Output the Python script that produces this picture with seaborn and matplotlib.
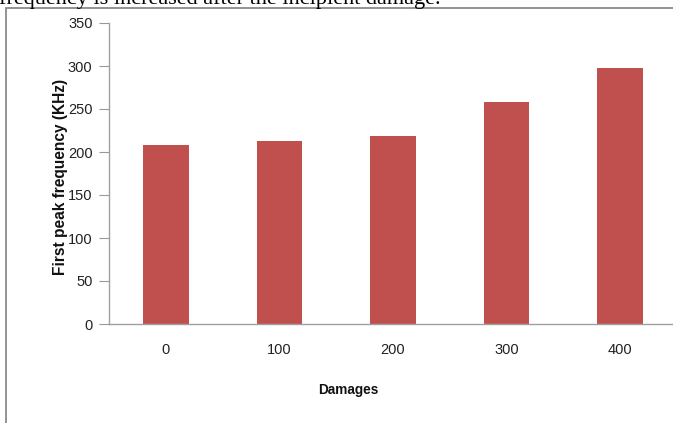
import matplotlib
matplotlib.use("Agg")
import matplotlib.pyplot as plt
from matplotlib.patches import Rectangle
import seaborn as sns
import pandas as pd

# Damage levels and first peak frequency (kHz)
damages = ["0", "100", "200", "300", "400"]
peak_freq = [208, 213, 219, 258, 298]
y_ticks = [0, 50, 100, 150, 200, 250, 300, 350]

df = pd.DataFrame({"Damages": damages, "Frequency": peak_freq})

sns.set_style("white")
plt.rcParams["font.family"] = ["Liberation Sans", "DejaVu Sans"]

W, H = 673, 423
fig = plt.figure(figsize=(W / 100, H / 100), dpi=100)

# plot area in pixel coordinates
x0, x1 = 109.25, 676.75
y_top, y_zero = 23, 324
ax = fig.add_axes([x0 / W, 1 - y_zero / H, (x1 - x0) / W, (y_zero - y_top) / H])

sns.barplot(data=df, x="Damages", y="Frequency", color="#C0504D",
            saturation=1, width=0.4, ax=ax, edgecolor="none")

ax.set_ylim(0, 350)
ax.set_xlim(-0.5, len(damages) - 0.5)
ax.set_yticks(y_ticks)
ax.set_yticklabels([str(t) for t in y_ticks], fontsize=10.5, color="#222222")
ax.tick_params(axis="y", which="major", left=True, length=7, width=0.8,
               color="#999999", pad=5)
ax.tick_params(axis="x", which="major", bottom=False, pad=10)
for lab in ax.get_xticklabels():
    lab.set_fontsize(10.5)
    lab.set_color("#222222")

for side in ["top", "right"]:
    ax.spines[side].set_visible(False)
for side in ["left", "bottom"]:
    ax.spines[side].set_color("#A0A0A0")
    ax.spines[side].set_linewidth(1.0)

ax.set_xlabel("Damages", fontsize=9.8, fontweight="bold", color="#111111")
ax.xaxis.set_label_coords((348 - x0) / (x1 - x0), -(390 - y_zero) / (y_zero - y_top),
                          transform=ax.transAxes)
ax.xaxis.label.set_va("center")
ax.set_ylabel("First peak frequency (KHz)", fontsize=11.2, fontweight="bold",
              color="#111111")
ax.yaxis.set_label_coords(-(x0 - 60) / (x1 - x0), 0.49, transform=ax.transAxes)
ax.yaxis.label.set_va("center")

# frame around the chart
fig.add_artist(Rectangle((6 / W, -0.1), 1.1, 1 - 8 / H + 0.1,
                         transform=fig.transFigure, fill=False,
                         edgecolor="#808080", linewidth=1.2))

# caption line from the surrounding text
fig.text(-1 / W, 1 - 4 / H, "frequency is increased after the incipient damage.",
         fontsize=16, family="Liberation Serif", va="baseline", ha="left",
         color="black")

fig.savefig("out.png", dpi=100)
